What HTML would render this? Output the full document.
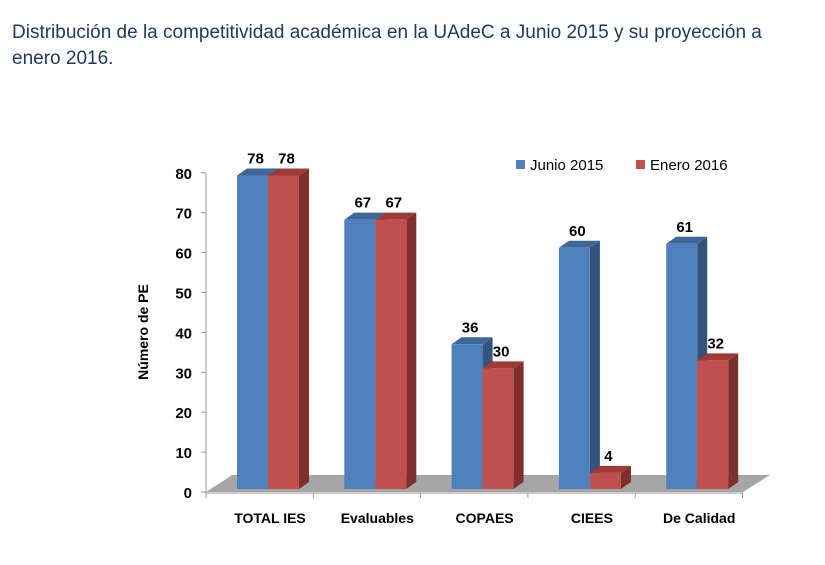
<!DOCTYPE html>
<html><head><meta charset="utf-8"><style>
body{margin:0;background:#fff;width:825px;height:565px;overflow:hidden;font-family:"Liberation Sans",sans-serif}
#title{position:absolute;left:12px;top:20px;font-size:19px;line-height:26px;color:#1f3a60;width:790px}
svg{position:absolute;left:0;top:0}
</style></head><body>
<div id="title">Distribución de la competitividad académica en la UAdeC a Junio 2015 y su proyección a enero 2016.</div>
<svg id="chart" width="825" height="565"></svg>
<script>
const categories=["TOTAL IES","Evaluables","COPAES","CIEES","De Calidad"];
const junio=[78,67,36,60,61];
const enero=[78,67,30,4,32];
const ticks=[0,10,20,30,40,50,60,70,80];
const NS="http://www.w3.org/2000/svg";
const svg=document.getElementById('chart');
function mk(t,a,p){const e=document.createElementNS(NS,t);for(const k in a)e.setAttribute(k,a[k]);(p||svg).appendChild(e);return e;}
const base=489, ppu=4.02, x0=206, step=107.3, first=237, bw=31, dx=10, dy=7;
const y=v=>base-v*ppu;
const ax=mk('line',{x1:x0,y1:173,x2:x0,y2:493,stroke:'#999','stroke-width':1});


ticks.forEach(t=>{
 const yy=492-t*3.99;
 mk('line',{x1:x0-5,y1:yy,x2:x0,y2:yy,stroke:'#999'});
 const tx=mk('text',{x:x0-14,y:yy+6,'text-anchor':'end','font-size':15,'font-weight':'bold',fill:'#000'});
 tx.textContent=t;
 
 
});
const fl=mk('polygon',{points:'206,492 743,492 770,475 232,475',fill:'#a6a6a6'});


mk('line',{x1:206,y1:493,x2:743,y2:493,stroke:'#999'});
for(let i=0;i<=5;i++){const xx=x0+i*step;mk('line',{x1:xx,y1:493,x2:xx,y2:498,stroke:'#999'});}
function bar(x,v,front,side,top,name){
 const g=mk('g',{});
 
 
 const t=y(v);
 mk('polygon',{points:`${x+bw},${t} ${x+bw+dx},${t-dy} ${x+bw+dx},${base-dy} ${x+bw},${base}`,fill:side},g);
 mk('polygon',{points:`${x},${t} ${x+dx},${t-dy} ${x+bw+dx},${t-dy} ${x+bw},${t}`,fill:top},g);
 mk('rect',{x:x,y:t,width:bw,height:base-t,fill:front},g);
 const l=mk('text',{x:x+bw/2+3,y:t-12,'text-anchor':'middle','font-size':15,'font-weight':'bold',fill:'#000'},g);
 l.textContent=v;
}
categories.forEach((c,i)=>{
 const bx=first+i*step;
 bar(bx,junio[i],'#4f81bd','#34547e','#3e6697','bar-junio-'+i);
 bar(bx+bw,enero[i],'#c0504d','#7f2f2d','#9c3b38','bar-enero-'+i);
 const l=mk('text',{x:bx+bw+2,y:523,'text-anchor':'middle','font-size':14,'font-weight':'bold',fill:'#000'});
 l.textContent=c;
 
 
});
const yt=mk('text',{x:0,y:0,transform:'translate(148,332) rotate(-90)','text-anchor':'middle','font-size':14,'font-weight':'bold',fill:'#000'});
yt.textContent='Número de PE';


[['Junio 2015','#4f81bd',516],['Enero 2016','#c0504d',636]].forEach(([n,c,lx])=>{
 const g=mk('g',{});
 
 
 mk('rect',{x:lx,y:160,width:9,height:9,fill:c},g);
 const t=mk('text',{x:lx+14,y:170,'font-size':15,fill:'#000'},g);t.textContent=n;
});
</script>
</body></html>
